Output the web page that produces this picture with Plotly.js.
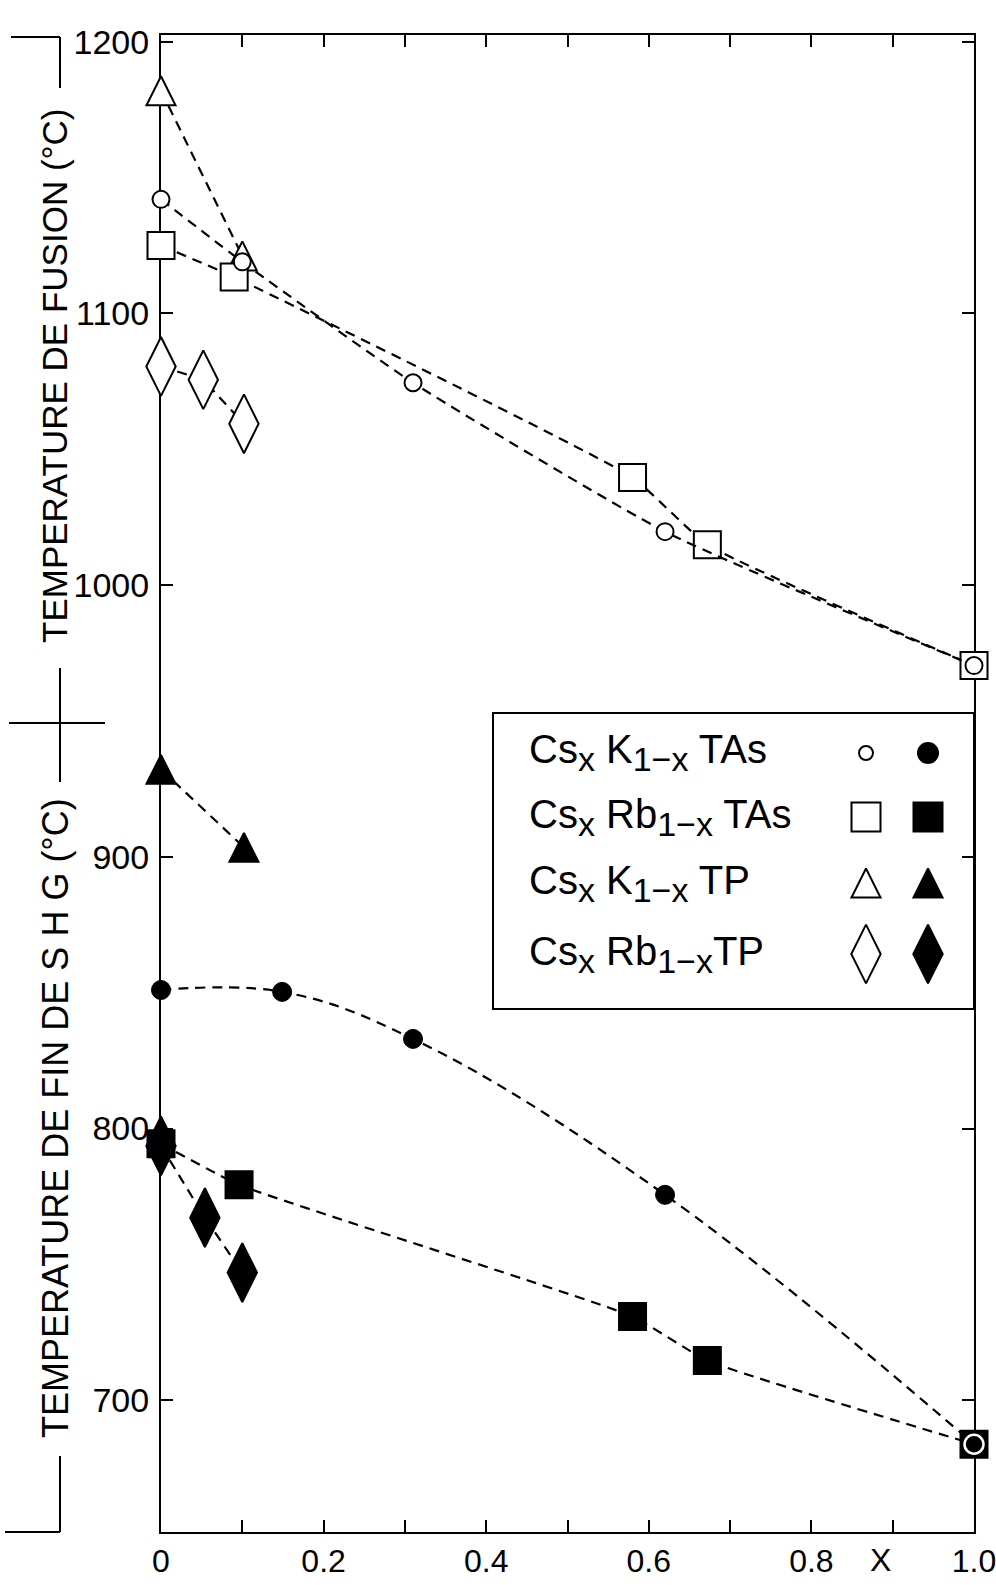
<!DOCTYPE html>
<html><head><meta charset="utf-8">
<script src="https://cdn.plot.ly/plotly-3.0.1.min.js"></script>
<style>html,body{margin:0;padding:0;background:#fff}</style>
</head><body>
<div id="chart" style="width:996px;height:1585px"></div>
<script>
// ---------------- data ----------------
// Fusion temperature (open symbols)
const fusCsK_TAs_x  = [0, 0.10, 0.31, 0.62, 1.0];
const fusCsK_TAs_y  = [1142, 1119, 1074.5, 1019.7, 970.4];
const fusCsRb_TAs_x = [0, 0.09, 0.58, 0.672, 1.0];
const fusCsRb_TAs_y = [1125, 1113.4, 1039.6, 1014.9, 970.4];
const fusCsK_TP_x   = [0, 0.10];
const fusCsK_TP_y   = [1182, 1121.2];
const fusCsRb_TP_x  = [0, 0.052, 0.102];
const fusCsRb_TP_y  = [1080.5, 1075.6, 1059.4];
// End of SHG temperature (filled symbols)
const shgCsK_TAs_x  = [0, 0.149, 0.31, 0.62, 1.0];
const shgCsK_TAs_y  = [851, 850.3, 833, 775.6, 683.8];
const shgCsRb_TAs_x = [0, 0.096, 0.58, 0.672, 1.0];
const shgCsRb_TAs_y = [794.4, 779.3, 730.8, 714.6, 683.8];
const shgCsK_TP_x   = [0, 0.102];
const shgCsK_TP_y   = [932.2, 903.5];
const shgCsRb_TP_x  = [0, 0.054, 0.10];
const shgCsRb_TP_y  = [793.6, 767.2, 747];

const xTickVals = [0, 0.2, 0.4, 0.6, 0.8, 1.0];
const xTickText = ['0', '0.2', '0.4', '0.6', '0.8', '1.0'];
const xMinorTickVals = [0.1, 0.3, 0.5, 0.7, 0.9];
const yTickVals = [700, 800, 900, 1000, 1100, 1200];
const yTickText = ['700', '800', '900', '1000', '1100', '1200'];

const SUB = s => '<sub><span style="font-size:34px">' + s + '</span></sub>';
const legendLabels = [
  'Cs' + SUB('x') + ' K' + SUB('1\u2212x') + ' TAs',
  'Cs' + SUB('x') + ' Rb' + SUB('1\u2212x') + ' TAs',
  'Cs' + SUB('x') + ' K' + SUB('1\u2212x') + ' TP',
  'Cs' + SUB('x') + ' Rb' + SUB('1\u2212x') + 'TP'
];
const titleFusion = 'TEMPERATURE DE FUSION (°C)';
const titleSHG = 'TEMPERATURE DE FIN DE S H G (°C)';
const xLabel = 'X';

// ---------------- layout geometry ----------------
const W = 996, H = 1585, L = 161, R = 974, T = 35, B = 1532;
const px = x => (x - L) / (R - L);
const py = y => 1 - (y - T) / (B - T);
const FONT = 'Liberation Sans, Arial, Helvetica, sans-serif';
const K = '#000000';
const DASH = '10px,7px';
const LW = 2.2;

const SIZES = {circleOpen: 17, circleFilled: 19, square: 27, tri: 29, diamond: 42};

// centred upward triangle: arrow-down shifted by half its size, then turned 180 degrees
function triMarker(m, size) {
  m.symbol = 'arrow-down';
  m.angle = 180;
  m.standoff = size / 2;
}

function series(x, y, symbol, size, fill, shape, extra) {
  const t = {
    x: x, y: y, type: 'scatter', mode: 'lines+markers', cliponaxis: false,
    showlegend: false, hoverinfo: 'skip',
    line: {color: K, width: LW, dash: DASH, shape: shape || 'linear', smoothing: 1, backoff: 0},
    marker: {symbol: symbol, size: size, color: fill, opacity: 1, line: {color: K, width: 2}}
  };
  if (symbol === 'tri') triMarker(t.marker, size);
  if (extra) extra(t);
  return t;
}

const traces = [
  series(fusCsK_TP_x, fusCsK_TP_y, 'tri', SIZES.tri, 'white'),
  series(fusCsRb_TP_x, fusCsRb_TP_y, 'diamond-tall', SIZES.diamond, 'white'),
  series(fusCsRb_TAs_x, fusCsRb_TAs_y, 'square', SIZES.square, 'white', 'spline', t => { t.line.smoothing = 0.4; }),
  series(fusCsK_TAs_x, fusCsK_TAs_y, 'circle', SIZES.circleOpen, 'white', 'spline', t => { t.line.smoothing = 0.5; }),
  series(shgCsK_TP_x, shgCsK_TP_y, 'tri', SIZES.tri, K),
  series(shgCsRb_TAs_x, shgCsRb_TAs_y, 'square', SIZES.square, K, 'spline', t => { t.line.smoothing = 0.4; }),
  series(shgCsRb_TP_x, shgCsRb_TP_y, 'diamond-tall', SIZES.diamond, K),
  series(shgCsK_TAs_x, shgCsK_TAs_y, 'circle', SIZES.circleFilled, K, 'spline', t => {
    t.line.smoothing = 1.1;
    t.marker.line = {color: shgCsK_TAs_x.map(v => v === 1.0 ? 'white' : K), width: shgCsK_TAs_x.map(v => v === 1.0 ? 2.5 : 1)};
  })
];

// legend box geometry (px)
const legBox = {x0: 493, x1: 974, y0: 713, y1: 1009};
const legRowsPx = [753, 817, 883, 954];
const legColsPx = [866, 928];
const legTextX = 527;
const legSymbols = [
  ['circle', 14, 20],
  ['square', 29, 29],
  ['tri', 29, 29],
  ['diamond-tall', 42, 42]
];
['white', K].forEach((fill, c) => {
  const t = {
    x: legSymbols.map(() => (legColsPx[c] - legBox.x0) / (legBox.x1 - legBox.x0)),
    y: legRowsPx.map(r => (legBox.y1 - r) / (legBox.y1 - legBox.y0)),
    xaxis: 'x2', yaxis: 'y2', type: 'scatter', mode: 'markers', cliponaxis: false,
    showlegend: false, hoverinfo: 'skip',
    marker: {
      symbol: legSymbols.map(s => s[0] === 'tri' ? 'arrow-down' : s[0]),
      angle: legSymbols.map(s => s[0] === 'tri' ? 180 : 0),
      standoff: legSymbols.map(s => s[0] === 'tri' ? s[1 + c] / 2 : 0),
      size: legSymbols.map(s => s[1 + c]),
      color: fill, opacity: 1, line: {color: K, width: 2}
    }
  };
  traces.push(t);
});

const shapes = [];
function seg(x0, y0, x1, y1, w) {
  shapes.push({type: 'line', xref: 'paper', yref: 'paper', x0: px(x0), y0: py(y0), x1: px(x1), y1: py(y1), line: {color: K, width: w || 2}});
}
// outer bracket at left with cross
seg(11, 37, 60, 37); seg(60, 37, 60, 88);
seg(9, 723, 105, 723); seg(60, 668, 60, 782);
seg(60, 1456, 60, 1532); seg(5, 1532, 60, 1532);
// legend frame
shapes.push({type: 'rect', xref: 'paper', yref: 'paper', x0: px(legBox.x0), x1: px(legBox.x1), y0: py(legBox.y0), y1: py(legBox.y1), line: {color: K, width: 2}, fillcolor: 'rgba(0,0,0,0)'});

const annotations = [
  {text: titleFusion, xref: 'paper', yref: 'paper', x: px(55), y: py(376), textangle: -90, showarrow: false, xanchor: 'center', yanchor: 'middle', font: {family: FONT, size: 35, color: K}},
  {text: titleSHG, xref: 'paper', yref: 'paper', x: px(55), y: py(1118), textangle: -90, showarrow: false, xanchor: 'center', yanchor: 'middle', font: {family: FONT, size: 36, color: K}},
  {text: xLabel, xref: 'paper', yref: 'paper', x: px(880), y: py(1560), showarrow: false, xanchor: 'center', yanchor: 'middle', font: {family: FONT, size: 32, color: K}}
];
legendLabels.forEach((lab, i) => {
  annotations.push({text: lab, xref: 'paper', yref: 'paper', x: px(legTextX), y: py(legRowsPx[i]), showarrow: false, xanchor: 'left', yanchor: 'middle', font: {family: FONT, size: 40, color: K}});
});

const axCommon = {
  showline: true, linecolor: K, linewidth: 2, mirror: 'ticks', ticks: 'inside', ticklen: 12, tickwidth: 2, tickcolor: K,
  showgrid: false, zeroline: false, layer: 'below traces', tickfont: {family: FONT, size: 32, color: K}, fixedrange: true,
  ticklabeloverflow: 'allow'
};

const layout = {
  width: W, height: H,
  margin: {l: L, r: W - R, t: T, b: H - B, pad: 0},
  paper_bgcolor: 'white', plot_bgcolor: 'rgba(0,0,0,0)',
  showlegend: false,
  font: {family: FONT, color: K},
  xaxis: Object.assign({}, axCommon, {
    range: [0, 1], tickmode: 'array', tickvals: xTickVals, ticktext: xTickText, ticklabelstandoff: 0,
    minor: {tickmode: 'array', tickvals: xMinorTickVals, ticks: 'inside', ticklen: 12, tickwidth: 2, tickcolor: K, showgrid: false}
  }),
  yaxis: Object.assign({}, axCommon, {
    range: [651.5, 1202.5], tickmode: 'array', tickvals: yTickVals, ticktext: yTickText, ticklabelstandoff: 3,
    tickfont: {family: FONT, size: 34, color: K}
  }),
  xaxis2: {domain: [px(legBox.x0), px(legBox.x1)], range: [0, 1], visible: false, anchor: 'y2', fixedrange: true},
  yaxis2: {domain: [py(legBox.y1), py(legBox.y0)], range: [0, 1], visible: false, anchor: 'x2', fixedrange: true},
  shapes: shapes,
  annotations: annotations
};

Plotly.newPlot('chart', traces, layout, {staticPlot: true, displayModeBar: false});
</script>
</body></html>
